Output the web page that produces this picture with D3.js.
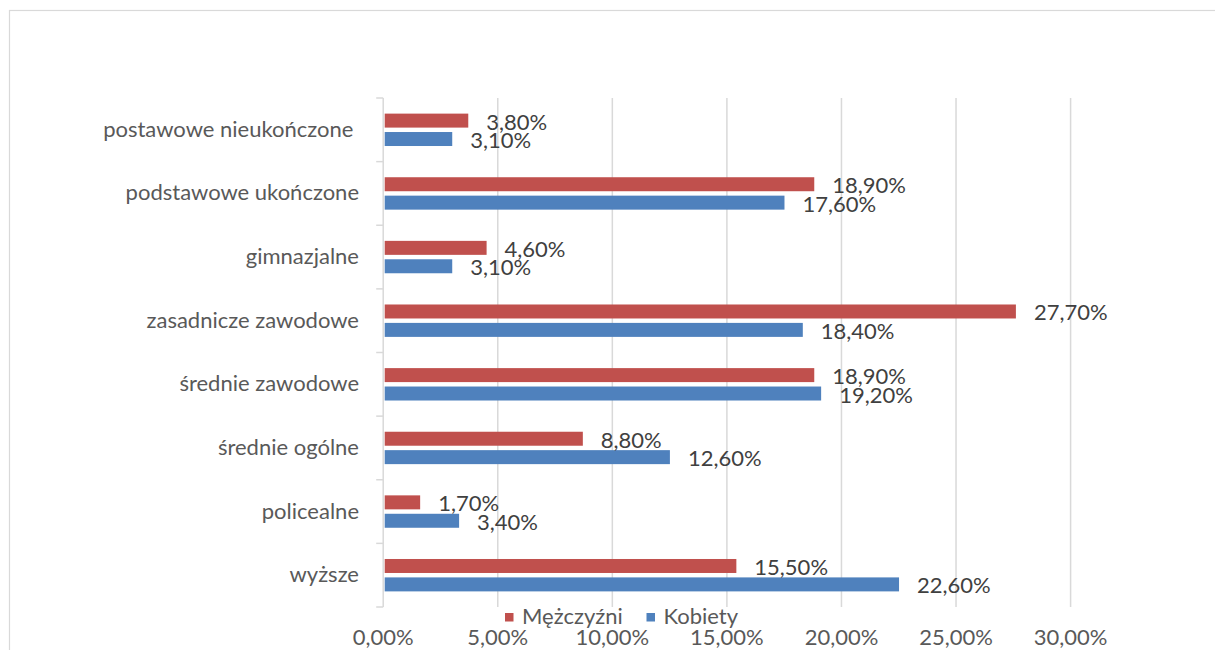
<!DOCTYPE html>
<html>
<head>
<meta charset="utf-8">
<script src="https://cdn.jsdelivr.net/npm/d3@7"></script>
<style>
  html, body { margin: 0; padding: 0; background: #fff; }
  svg { display: block; font-family: Lato, "Open Sans", sans-serif; }
</style>
</head>
<body>
<svg id="chart" width="1215" height="650"></svg>
<script>
const categories = [
  "postawowe nieukończone ",
  "podstawowe ukończone",
  "gimnazjalne",
  "zasadnicze zawodowe",
  "średnie zawodowe",
  "średnie ogólne",
  "policealne",
  "wyższe"
];
const seriesNames = ["Mężczyźni", "Kobiety"];
const men   = [3.8, 18.9, 4.6, 27.7, 18.9, 8.8, 1.7, 15.5];
const women = [3.1, 17.6, 3.1, 18.4, 19.2, 12.6, 3.4, 22.6];
const xTicks = [0, 5, 10, 15, 20, 25, 30];
const colors = ["#C0504D", "#4F81BD"];

const seriesValues = [men, women];
const fmt = v => v.toFixed(2).replace(".", ",") + "%";

const svg = d3.select("#chart");

// outer chart border
svg.append("rect")
  .attr("x", 9.5).attr("y", 10.5)
  .attr("width", 1230).attr("height", 700)
  .attr("fill", "none").attr("stroke", "#d9d9d9").attr("stroke-width", 1.2);

const x = d3.scaleLinear().domain([0, 30]).range([383.2, 1070.6]);
const y0 = d3.scaleBand().domain(categories).range([98, 607]);
const y1 = d3.scaleBand().domain(seriesNames).range([0, 32.4]).paddingInner(0.24);

// gridlines
svg.append("g").selectAll("line")
  .data(xTicks.slice(1))
  .join("line")
  .attr("x1", d => x(d)).attr("x2", d => x(d))
  .attr("y1", 98).attr("y2", 607)
  .attr("stroke", "#d9d9d9").attr("stroke-width", 1.5);

// category axis
const yAxis = svg.append("g");
yAxis.append("line")
  .attr("x1", x(0)).attr("x2", x(0))
  .attr("y1", 98).attr("y2", 607)
  .attr("stroke", "#d9d9d9").attr("stroke-width", 1.5);
const bounds = categories.map(c => y0(c)).concat([607]);
yAxis.selectAll("line.tick")
  .data(bounds)
  .join("line").attr("class", "tick")
  .attr("x1", x(0) - 7).attr("x2", x(0))
  .attr("y1", d => d).attr("y2", d => d)
  .attr("stroke", "#d9d9d9").attr("stroke-width", 1.5);
yAxis.selectAll("text")
  .data(categories)
  .join("text")
  .attr("x", 359)
  .attr("y", d => y0(d) + y0.bandwidth() / 2 + 7)
  .attr("text-anchor", "end")
  .style("white-space", "pre")
  .attr("fill", "#595959")
  .attr("font-size", 22)
  .text(d => d);

// bars
const groups = svg.append("g").selectAll("g")
  .data(categories)
  .join("g")
  .attr("transform", d => `translate(0,${y0(d) + y0.bandwidth() / 2 - 16.2})`);

groups.selectAll("rect")
  .data((c, i) => seriesNames.map((s, k) => ({ s, k, v: seriesValues[k][i] })))
  .join("rect")
  .attr("x", x(0) + 1.5)
  .attr("y", d => y1(d.s))
  .attr("width", d => Math.max(0, x(d.v) - x(0) - 3.5))
  .attr("height", y1.bandwidth())
  .attr("fill", d => colors[d.k]);

groups.selectAll("text")
  .data((c, i) => seriesNames.map((s, k) => ({ s, k, v: seriesValues[k][i] })))
  .join("text")
  .attr("x", d => x(d.v) + 16)
  .attr("y", d => y1(d.s) + y1.bandwidth() / 2 + 9)
  .attr("fill", "#404040")
  .attr("font-size", 22)
  .text(d => fmt(d.v));

// x axis tick labels
svg.append("g").selectAll("text")
  .data(xTicks)
  .join("text")
  .attr("x", d => x(d))
  .attr("y", 645)
  .attr("text-anchor", "middle")
  .attr("fill", "#595959")
  .attr("font-size", 22)
  .text(d => fmt(d));

// legend
const legendX = [505, 646.5];
const legend = svg.append("g").selectAll("g")
  .data(seriesNames)
  .join("g")
  .attr("transform", (d, i) => `translate(${legendX[i]},613)`);
legend.append("rect")
  .attr("width", 8.5).attr("height", 8.5)
  .attr("fill", (d, i) => colors[i]);
legend.append("text")
  .attr("x", 17).attr("y", 10.5)
  .attr("fill", "#595959")
  .attr("font-size", 22)
  .text(d => d);
</script>
</body>
</html>
